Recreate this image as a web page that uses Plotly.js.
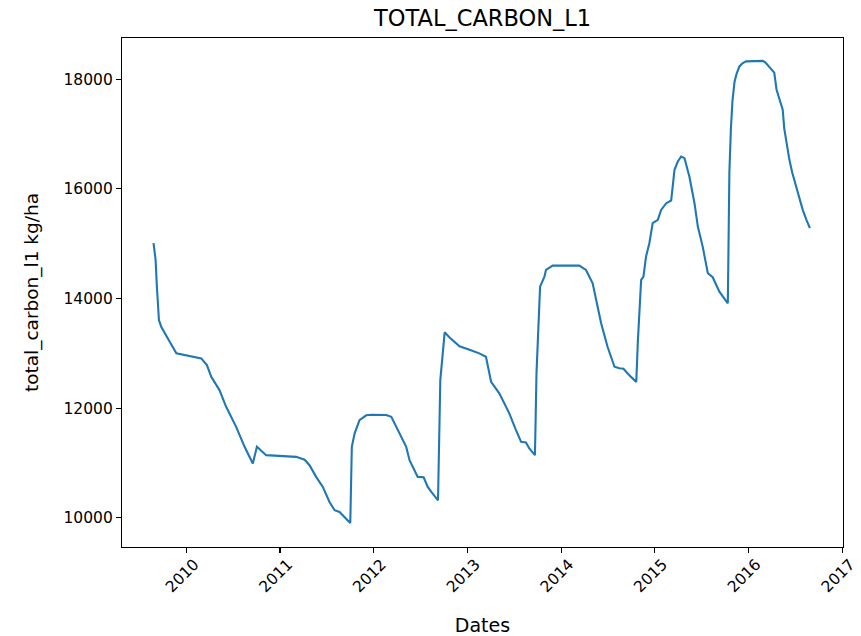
<!DOCTYPE html>
<html>
<head>
<meta charset="utf-8">
<script src="https://cdn.plot.ly/plotly-3.0.1.min.js"></script>
<style>html,body{margin:0;padding:0;background:#fff;}#chart{width:861px;height:636px;}</style>
</head>
<body>
<div id="chart"></div>
<script>
const dates = [
"2009-08-26","2009-09-03","2009-09-08","2009-09-16","2009-09-25","2009-10-15","2009-10-28","2009-11-23",
"2010-01-01","2010-02-28","2010-03-22","2010-04-08","2010-05-10","2010-06-05","2010-07-14","2010-08-16",
"2010-09-17","2010-10-03","2010-11-08","2011-01-25","2011-03-05","2011-04-07","2011-04-26","2011-05-22",
"2011-06-17","2011-07-13","2011-08-02","2011-08-21","2011-09-10","2011-10-02","2011-10-08","2011-10-19",
"2011-11-07","2011-12-03","2011-12-24","2012-02-19","2012-03-10","2012-03-29","2012-04-11","2012-05-07",
"2012-05-20","2012-06-08","2012-06-21","2012-07-14","2012-07-30","2012-08-13","2012-09-08","2012-09-17",
"2012-09-27","2012-10-04","2012-10-23","2012-12-01","2013-01-09","2013-02-16","2013-03-14","2013-03-21",
"2013-04-03","2013-05-05","2013-06-13","2013-07-09","2013-07-29","2013-08-17","2013-08-30","2013-09-21",
"2013-09-27","2013-10-11","2013-10-28","2013-11-03","2013-11-29","2014-03-13","2014-04-08","2014-05-04",
"2014-05-17","2014-06-06","2014-07-01","2014-07-28","2014-08-16","2014-09-01","2014-09-24","2014-10-21",
"2014-10-27","2014-11-02","2014-11-09","2014-11-18","2014-11-28","2014-12-11","2014-12-24","2015-01-13",
"2015-01-26","2015-02-15","2015-03-06","2015-03-12","2015-03-19","2015-04-01","2015-04-14","2015-04-27",
"2015-05-16","2015-06-05","2015-06-18","2015-07-07","2015-07-27","2015-08-15","2015-09-10","2015-10-13",
"2015-10-16","2015-10-19","2015-10-25","2015-10-31","2015-11-08","2015-11-16","2015-11-27","2015-12-09",
"2015-12-23","2016-02-26","2016-03-07","2016-03-16","2016-03-31","2016-04-11","2016-04-20","2016-05-01",
"2016-05-14","2016-05-20","2016-05-27","2016-06-09","2016-06-20","2016-07-05","2016-07-18","2016-07-31",
"2016-08-14","2016-08-28"
];
const totalCarbon = [
15009,14704,14216,13608,13486,13335,13212,13000,
12969,12909,12787,12573,12330,12025,11660,11295,
10992,11295,11143,11125,11112,11060,10960,10747,
10564,10290,10139,10108,10017,9907,11295,11540,
11782,11870,11880,11875,11843,11660,11540,11295,
11052,10870,10747,10740,10564,10473,10320,12513,
13060,13384,13290,13130,13065,13000,12938,12787,
12482,12270,11905,11600,11386,11375,11266,11143,
12635,14216,14399,14521,14600,14600,14521,14278,
13974,13548,13121,12756,12727,12720,12600,12480,
13200,13852,14339,14399,14764,15009,15374,15435,
15617,15739,15788,16043,16347,16499,16590,16561,
16225,15739,15313,14947,14461,14388,14126,13913,
15000,16300,17100,17600,17950,18100,18234,18290,
18325,18335,18310,18265,18190,18120,17808,17650,
17443,17100,16895,16530,16300,16043,15820,15617,
15440,15283
];
const yearTicks = ["2010-01-01","2011-01-01","2012-01-01","2013-01-01","2014-01-01","2015-01-01","2016-01-01","2017-01-01"];
const yearLabels = ["2010","2011","2012","2013","2014","2015","2016","2017"];
const yTicks = [10000,12000,14000,16000,18000];

const font = "DejaVu Sans, sans-serif";
Plotly.newPlot("chart", [{
  x: dates, y: totalCarbon, type: "scatter", mode: "lines",
  line: {color: "#1f77b4", width: 2.1}, hoverinfo: "x+y"
}], {
  width: 861, height: 636,
  margin: {l: 122, r: 18, t: 38, b: 89},
  paper_bgcolor: "#fff", plot_bgcolor: "#fff",
  font: {family: font, size: 15.5, color: "#000"},
  showlegend: false,
  title: {text: "TOTAL_CARBON_L1", font: {family: font, size: 22.5, color: "#000"}, x: 0.5605, xanchor: "center", y: 0.972, yanchor: "middle"},
  xaxis: {
    type: "date", range: ["2009-04-25", "2017-01-04"],
    tickvals: yearTicks, ticktext: yearLabels, tickangle: -45,
    ticks: "outside", ticklen: 5, tickwidth: 1.1, tickcolor: "#000",
    ticklabelshift: 8, ticklabelstandoff: -4, ticklabeloverflow: "allow",
    showgrid: false, zeroline: false,
    showline: true, mirror: true, linecolor: "#000", linewidth: 1.1,
    tickfont: {family: font, size: 15.5, color: "#000"},
    title: {text: "Dates", font: {family: font, size: 19, color: "#000"}, standoff: 23}
  },
  yaxis: {
    range: [9468, 18752],
    tickvals: yTicks, tickformat: "d",
    ticks: "outside", ticklen: 5, tickwidth: 1.1, tickcolor: "#000",
    showgrid: false, zeroline: false,
    showline: true, mirror: true, linecolor: "#000", linewidth: 1.1,
    tickfont: {family: font, size: 15.5, color: "#000"},
    title: {text: "total_carbon_l1 kg/ha", font: {family: font, size: 18.5, color: "#000"}, standoff: 20}
  }
}, {displayModeBar: false, staticPlot: true});
</script>
</body>
</html>
